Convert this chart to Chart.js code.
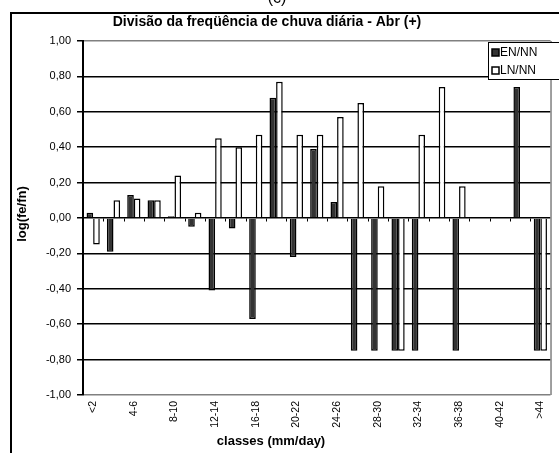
<!DOCTYPE html>
<html>
<head>
<meta charset="utf-8">
<script src="https://cdn.jsdelivr.net/npm/chart.js@4.4.0/dist/chart.umd.min.js"></script>
<style>
  body { margin: 0; background: #fff; }
  canvas { display: block; }
</style>
</head>
<body>
<canvas id="chart" width="559" height="453"></canvas>
<script>
// classes of daily rain (mm/day)
const classes = ['<2','2-4','4-6','6-8','8-10','10-12','12-14','14-16','16-18','18-20','20-22','22-24',
                 '24-26','26-28','28-30','30-32','32-34','34-36','36-38','38-40','40-42','42-44','>44']
const enNN = [0.03,-0.19,0.13,0.10,0.01,-0.05,-0.41,-0.06,-0.57,0.68,-0.22,0.39,
              0.09,-0.75,-0.75,-0.75,-0.75,null,-0.75,null,null,0.74,-0.75]
const lnNN = [-0.15,0.10,0.11,0.10,0.24,0.03,0.45,0.40,0.47,0.77,0.47,0.47,
              0.57,0.65,0.18,-0.75,0.47,0.74,0.18,null,null,null,-0.75]
const yTicks = [-1,-0.8,-0.6,-0.4,-0.2,0,0.2,0.4,0.6,0.8,1]

const FONT = "'Liberation Sans', Arial, sans-serif"

// =========================
// EXTRA DRAWING (frame, titles, legend)
// =========================
const decorations = {
    id: 'decorations',
    afterDatasetsDraw(chart) {
        const ctx = chart.ctx
        const area = chart.chartArea
        const x = chart.scales.x
        const y = chart.scales.y
        ctx.save()

        // plot border right side (gray)
        ctx.strokeStyle = '#808080'
        ctx.lineWidth = 1.5
        ctx.beginPath()
        ctx.moveTo(area.right + 0.5, area.top)
        ctx.lineTo(area.right + 0.5, area.bottom)
        ctx.stroke()

        // small tick marks on the zero line between categories
        const y0 = Math.round(y.getPixelForValue(0)) + 0.5
        const half = (x.getPixelForValue(1) - x.getPixelForValue(0)) / 2
        ctx.strokeStyle = '#000'
        ctx.lineWidth = 1
        ctx.beginPath()
        for (let i = 1; i < classes.length; i++) {
            const px = Math.round(x.getPixelForValue(i) - half) + 0.5
            ctx.moveTo(px, y0)
            ctx.lineTo(px, y0 + 3)
        }
        ctx.stroke()
        ctx.restore()
    },
    afterDraw(chart) {
        const ctx = chart.ctx
        ctx.save()

        // outer frame
        ctx.strokeStyle = '#000'
        ctx.lineWidth = 2
        ctx.strokeRect(11, 13, 560, 460)

        // "(c)" cut at the top
        ctx.fillStyle = '#000'
        ctx.font = '16px ' + FONT
        ctx.textAlign = 'center'
        ctx.textBaseline = 'bottom'
        ctx.fillText('(c)', 277, 7)

        // title
        ctx.font = 'bold 14px ' + FONT
        ctx.textBaseline = 'middle'
        ctx.fillText('Divisão da freqüência de chuva diária - Abr (+)', 267, 22)

        // axis titles
        ctx.font = 'bold 13px ' + FONT
        ctx.fillText('classes (mm/day)', 271, 441)
        ctx.save()
        ctx.translate(22, 214)
        ctx.rotate(-Math.PI / 2)
        ctx.fillText('log(fe/fn)', 0, 0)
        ctx.restore()

        // legend box
        ctx.fillStyle = '#fff'
        ctx.fillRect(488, 42, 72, 37)
        ctx.lineWidth = 1
        ctx.strokeStyle = '#000'
        ctx.strokeRect(488.5, 42.5, 72, 37)
        ctx.font = '12px ' + FONT
        ctx.textAlign = 'left'
        chart.data.datasets.forEach((ds, i) => {
            const ly = 52 + i * 18
            ctx.fillStyle = ds.backgroundColor
            ctx.fillRect(492, ly - 3, 7, 7)
            ctx.strokeStyle = '#000'
            ctx.lineWidth = 1.5
            ctx.strokeRect(492, ly - 3, 7, 7)
            ctx.fillStyle = '#000'
            ctx.fillText(ds.label, 500, ly + 1)
        })
        ctx.restore()
    }
}

const ctx = document.getElementById('chart')

new Chart(ctx, {
    type: 'bar',
    data: {
        labels: classes,
        datasets: [
            { label: 'EN/NN', data: enNN, backgroundColor: '#333333', borderColor: '#000', borderWidth: 1.5 },
            { label: 'LN/NN', data: lnNN, backgroundColor: '#ffffff', borderColor: '#000', borderWidth: 1.5 }
        ]
    },
    options: {
        responsive: false,
        animation: false,
        layout: { padding: { left: 12, right: 2, top: 41, bottom: 0 } },
        datasets: { bar: { categoryPercentage: 0.65, barPercentage: 1.0 } },
        plugins: {
            legend: { display: false },
            tooltip: { enabled: false }
        },
        scales: {
            x: {
                grid: { display: false, drawTicks: false },
                border: { display: false },
                ticks: {
                    autoSkip: false,
                    maxRotation: 90,
                    minRotation: 90,
                    padding: 6,
                    color: '#000',
                    font: { family: FONT, size: 10.5 },
                    callback: (v, i) => i % 2 === 0 ? classes[i] : ''
                },
                afterFit: s => { s.height = 58 }
            },
            y: {
                min: -1,
                max: 1,
                afterBuildTicks: s => { s.ticks = yTicks.map(v => ({ value: v })) },
                grid: {
                    color: c => Math.abs(Math.abs(c.tick.value) - 1) < 1e-9 ? '#808080' : '#000',
                    lineWidth: 1.5,
                    tickLength: 6,
                    tickColor: '#000'
                },
                border: { color: '#000', width: 2 },
                ticks: {
                    color: '#000',
                    padding: 6,
                    font: { family: FONT, size: 11 },
                    callback: v => (Math.abs(v) < 1e-9 ? 0 : v).toFixed(2).replace('.', ',')
                },
                afterFit: s => { s.width = 71 }
            }
        }
    },
    plugins: [decorations]
})
</script>
</body>
</html>
